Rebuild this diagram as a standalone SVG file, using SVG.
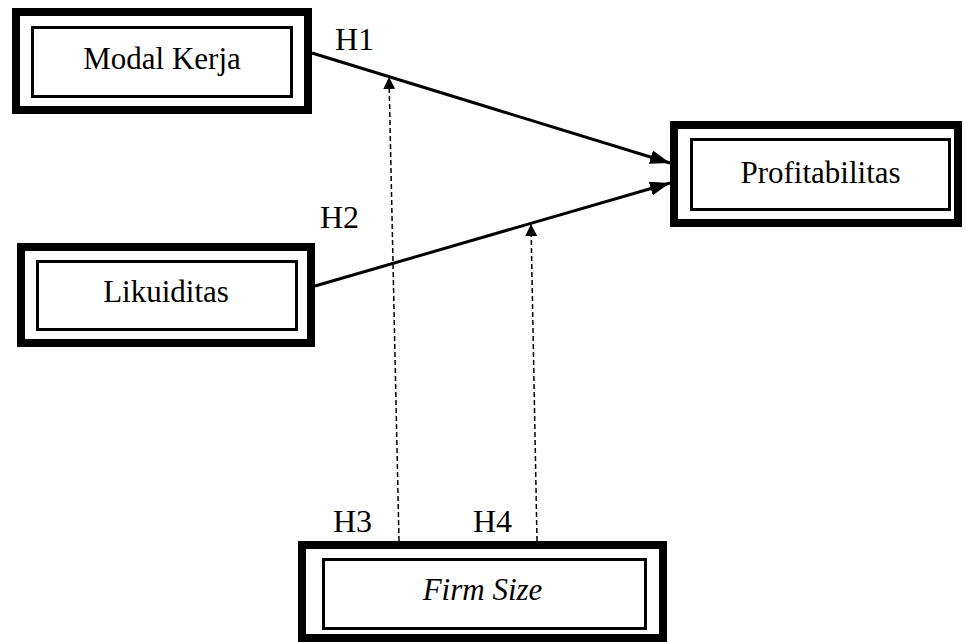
<svg xmlns="http://www.w3.org/2000/svg" width="965" height="642" viewBox="0 0 965 642">
<style>
.outer{fill:none;stroke:#000;stroke-width:8}
.inner{fill:none;stroke:#000;stroke-width:3}
.t{font-family:"Liberation Serif","Times New Roman",serif;font-size:31px;fill:#000}
.lbl{font-family:"Liberation Serif","Times New Roman",serif;font-size:32px;fill:#000}
.solid{fill:none;stroke:#000;stroke-width:3}
.dash{fill:none;stroke:#000;stroke-width:1.5;stroke-dasharray:5 3}
</style>
<defs>
<marker id="arr" markerUnits="userSpaceOnUse" markerWidth="22" markerHeight="14" refX="20" refY="7" orient="auto"><path d="M0,0 L20,7 L0,14 z" fill="#000"/></marker>
<marker id="arrd" markerUnits="userSpaceOnUse" markerWidth="14" markerHeight="12" refX="12" refY="6" orient="auto"><path d="M0,0 L12,6 L0,12 z" fill="#000"/></marker>
</defs>
<rect width="965" height="642" fill="#fff"/>
<g id="modal-kerja">
<rect class="outer" x="16" y="12" width="292" height="98"/>
<rect class="inner" x="32.5" y="27.5" width="259" height="69"/>
<text class="t" x="162" y="69" text-anchor="middle">Modal Kerja</text>
</g>
<g id="profitabilitas">
<rect class="outer" x="674" y="125" width="284" height="98"/>
<rect class="inner" x="691.5" y="139.5" width="258" height="70"/>
<text class="t" x="820.5" y="183" text-anchor="middle">Profitabilitas</text>
</g>
<g id="likuiditas">
<rect class="outer" x="21" y="247" width="290" height="96"/>
<rect class="inner" x="37.5" y="261.5" width="259" height="68"/>
<text class="t" x="166" y="302" text-anchor="middle">Likuiditas</text>
</g>
<g id="firm-size">
<rect class="outer" x="302" y="545" width="361" height="93"/>
<rect class="inner" x="323.5" y="559.5" width="322" height="69"/>
<text class="t" x="482.5" y="600" text-anchor="middle" font-style="italic">Firm Size</text>
</g>
<g id="connectors">
<line class="solid" x1="312" y1="53" x2="670" y2="163" marker-end="url(#arr)"/>
<line class="solid" x1="315" y1="286" x2="670" y2="183" marker-end="url(#arr)"/>
<line class="dash" x1="399" y1="541" x2="389" y2="77" marker-end="url(#arrd)"/>
<line class="dash" x1="537" y1="541" x2="531" y2="224" marker-end="url(#arrd)"/>
</g>
<g id="labels">
<text class="lbl" x="335" y="50">H1</text>
<text class="lbl" x="320" y="228">H2</text>
<text class="lbl" x="333" y="532">H3</text>
<text class="lbl" x="473" y="532">H4</text>
</g>
</svg>
